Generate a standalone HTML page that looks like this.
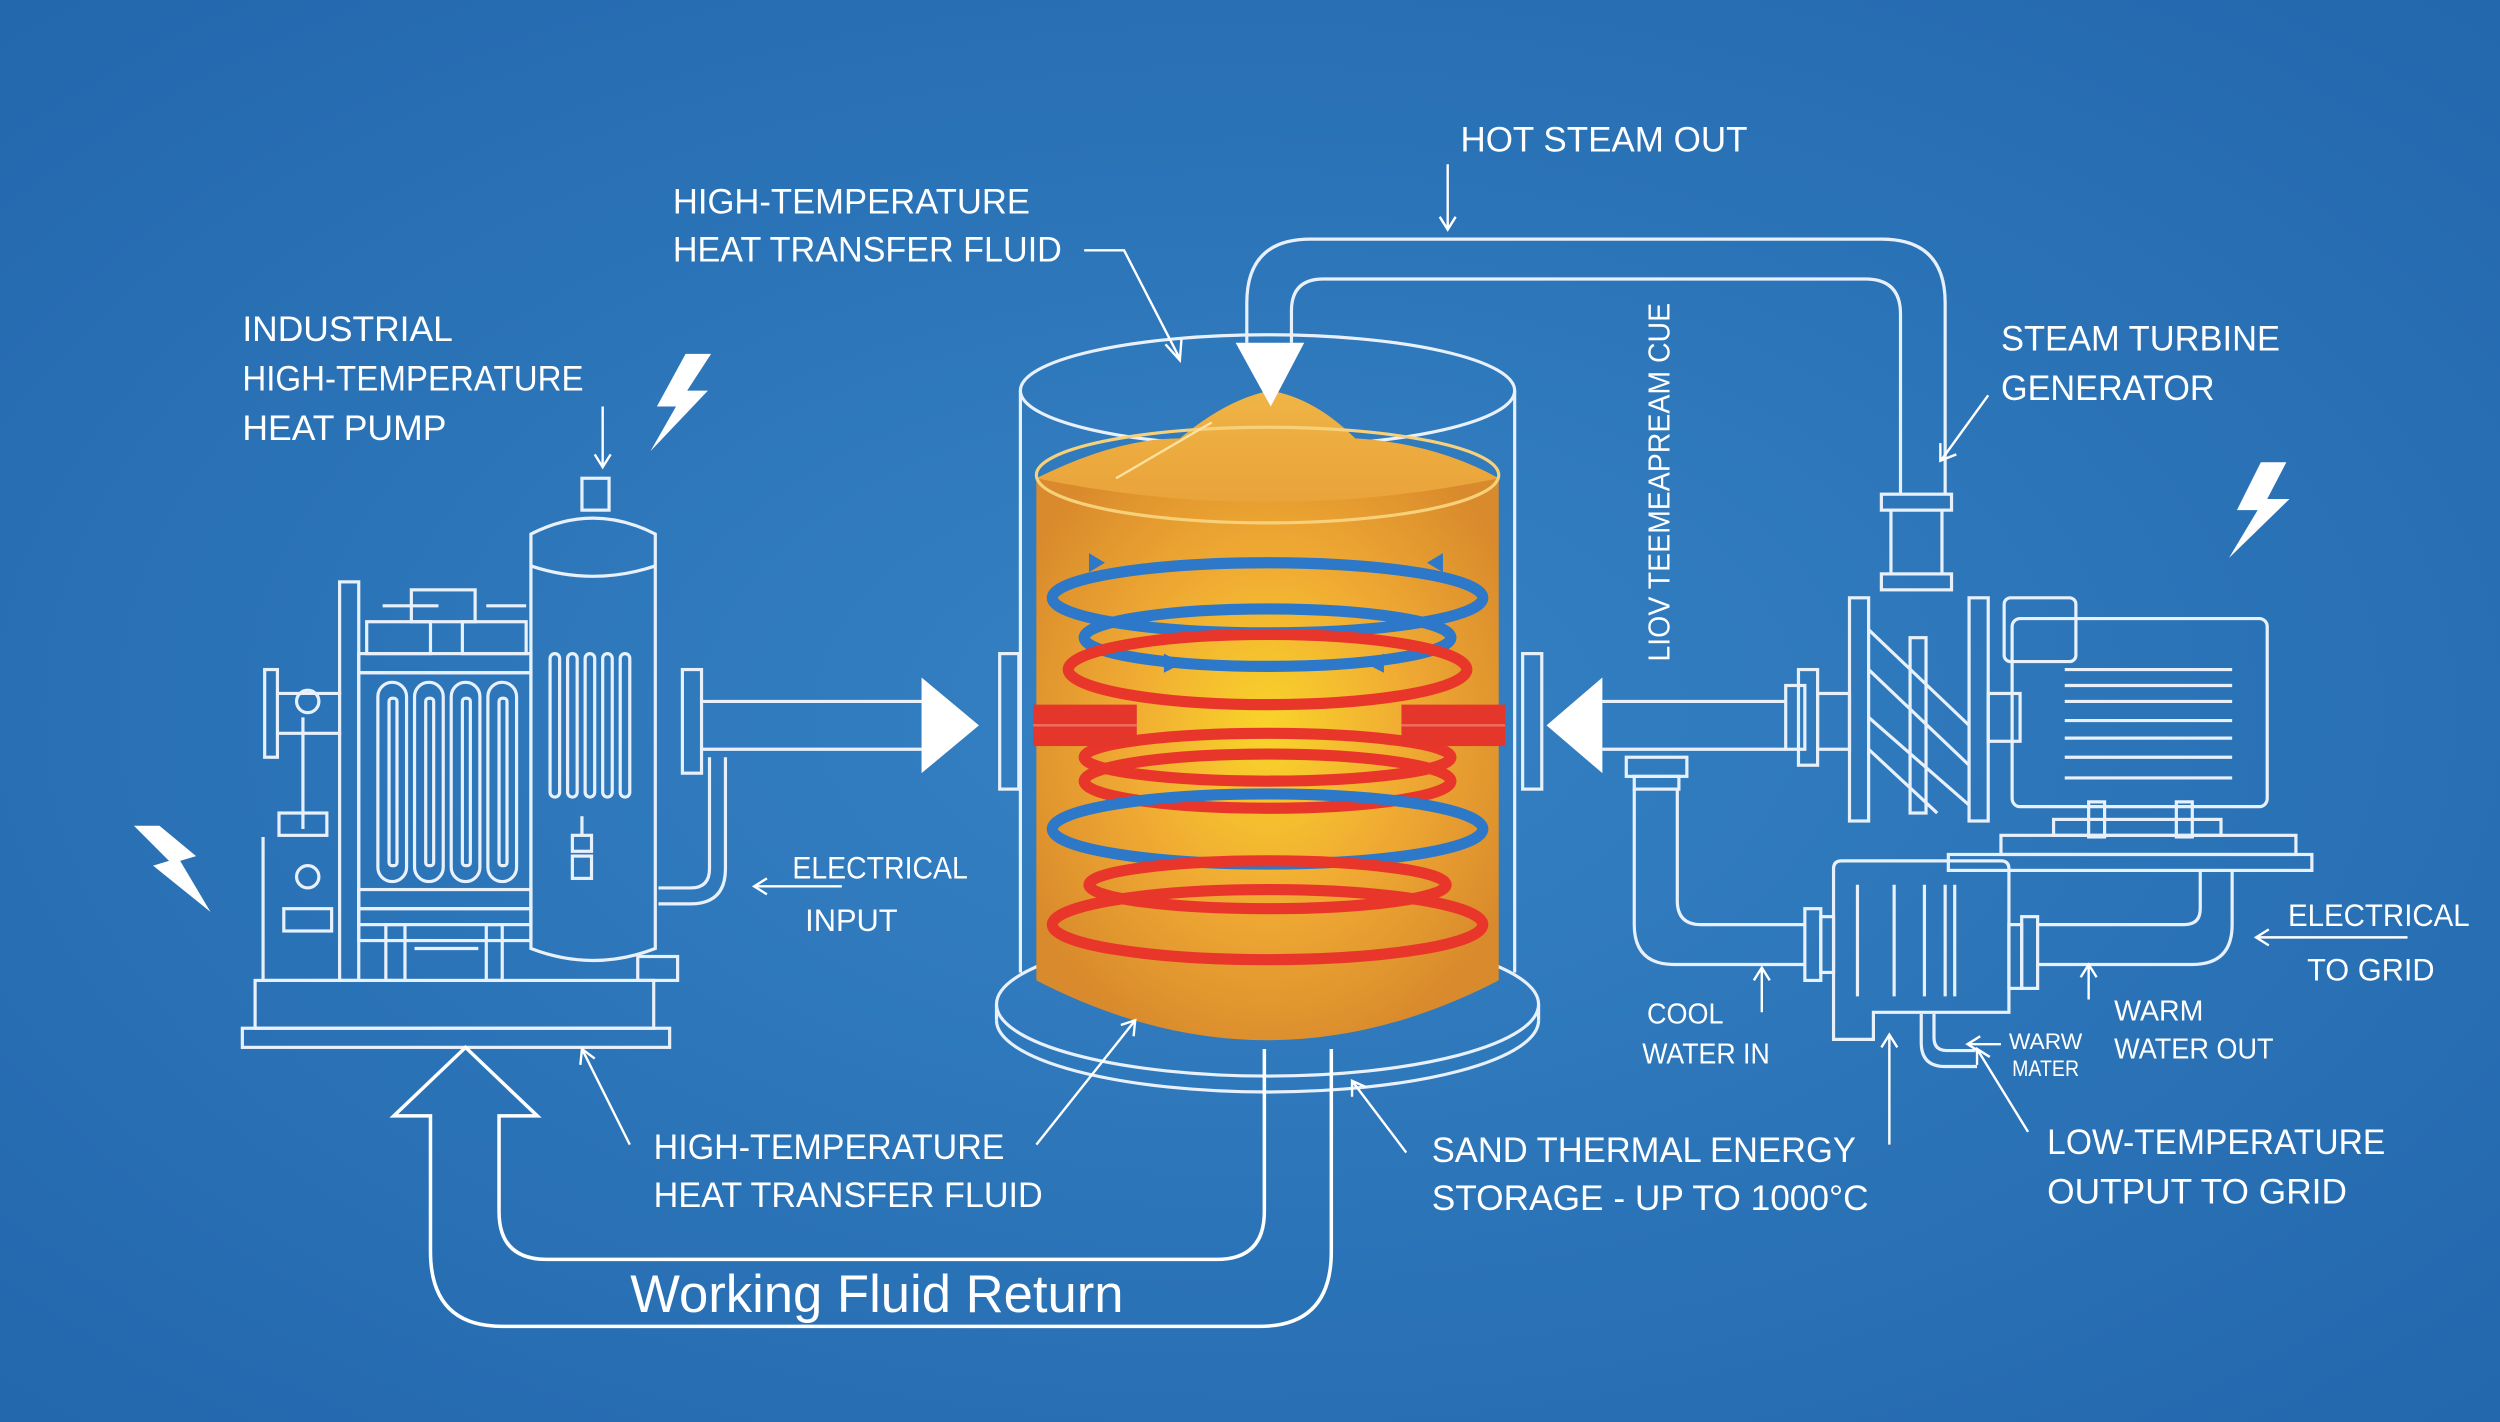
<!DOCTYPE html>
<html><head><meta charset="utf-8"><style>
html,body{margin:0;padding:0;width:2500px;height:1422px;overflow:hidden;background:#2e76b8}
svg{display:block}
text{font-family:"Liberation Sans",sans-serif;fill:#fff}
</style></head><body>
<svg width="2500" height="1422" viewBox="0 0 1568 892" preserveAspectRatio="none" xmlns="http://www.w3.org/2000/svg">
<defs>
<radialGradient id="bg" cx="50%" cy="50%" r="70%">
<stop offset="0" stop-color="#3582c4"/><stop offset="1" stop-color="#2367ad"/></radialGradient>
<radialGradient id="sand" cx="50%" cy="45%" r="60%">
<stop offset="0" stop-color="#f9d52a"/><stop offset="0.5" stop-color="#f0ab33"/><stop offset="1" stop-color="#d98a2c"/></radialGradient>
<linearGradient id="sandtop" x1="0" y1="0" x2="0" y2="1"><stop offset="0" stop-color="#f0b445"/><stop offset="1" stop-color="#e9a33a"/></linearGradient>
</defs>
<rect width="1568" height="892" fill="url(#bg)"/>
<g fill="none" stroke="#e8f1fb" stroke-width="2">
<!-- Left heat pump -->
<rect x="152" y="645" width="268" height="12"/>
<rect x="160" y="615" width="250" height="30"/>
<rect x="213" y="365" width="12" height="250"/>
<rect x="225" y="410" width="108" height="12"/>
<rect x="225" y="422" width="108" height="168"/>
<rect x="225" y="558" width="108" height="12"/>
<rect x="225" y="570" width="108" height="10"/>
<rect x="230" y="390" width="40" height="20"/><rect x="290" y="390" width="40" height="20"/>
<rect x="258" y="370" width="40" height="20"/>
<path d="M240 380h35M305 380h25"/>
<rect x="237" y="428" width="18" height="125" rx="9"/><rect x="244" y="438" width="5" height="105" rx="2"/>
<rect x="260" y="428" width="18" height="125" rx="9"/><rect x="267" y="438" width="5" height="105" rx="2"/>
<rect x="283" y="428" width="18" height="125" rx="9"/><rect x="290" y="438" width="5" height="105" rx="2"/>
<rect x="306" y="428" width="18" height="125" rx="9"/><rect x="313" y="438" width="5" height="105" rx="2"/>
<rect x="242" y="580" width="12" height="35"/><rect x="305" y="580" width="10" height="35"/>
<path d="M260 595h40"/>
<path d="M333 335 Q372 315 411 335 L411 595 Q372 610 333 595 Z"/>
<path d="M333 355 Q372 368 411 355"/>
<rect x="365" y="300" width="17" height="20"/>
<rect x="345" y="410" width="6" height="90" rx="3"/><rect x="356" y="410" width="6" height="90" rx="3"/><rect x="367" y="410" width="6" height="90" rx="3"/><rect x="378" y="410" width="6" height="90" rx="3"/><rect x="389" y="410" width="6" height="90" rx="3"/>
<path d="M365 512v12"/><rect x="359" y="524" width="12" height="10"/><rect x="359" y="537" width="12" height="14"/>
<rect x="400" y="600" width="25" height="15"/>
<!-- left small fittings -->
<rect x="166" y="420" width="8" height="55"/><path d="M174 435h40M174 460h40"/>
<circle cx="193" cy="440" r="7"/><path d="M190 450v70"/>
<rect x="175" y="510" width="30" height="14"/><path d="M165 525v90h50"/>
<rect x="178" y="570" width="30" height="14"/><circle cx="193" cy="550" r="7"/>
<!-- pipe to tank -->
<rect x="428" y="420" width="12" height="65"/>
<path d="M440 440H585M440 470H585"/>
<path d="M445 475 v70 q0 12 -12 12 h-20 M455 475 v70 q0 22 -22 22 h-20"/>
<!-- central tank outer -->
<ellipse cx="795" cy="245" rx="155" ry="35"/>
<path d="M640 245V610M950 245V610"/>
<ellipse cx="795" cy="630" rx="170" ry="45"/>
<path d="M625 630v10 M965 630v10"/>
<path d="M625 640 A170 45 0 0 0 965 640"/>
</g>
<!-- sand -->
<path d="M650 300 L650 615 Q795 690 940 615 L940 300 Z" fill="url(#sand)"/>
<path d="M650 300 Q700 275 740 275 Q770 250 797 245 Q825 250 850 275 Q900 278 940 300 Q795 330 650 300Z" fill="url(#sandtop)"/>
<ellipse cx="795" cy="298" rx="145" ry="30" fill="none" stroke="#f7d07a" stroke-width="2"/>
<path d="M700 300 L760 265" stroke="#fbe1a0" stroke-width="1.5"/>
<g fill="none" stroke-width="7">
<ellipse cx="795" cy="375" rx="135" ry="22" stroke="#2d78c8"/>
<ellipse cx="795" cy="400" rx="115" ry="18" stroke="#2d78c8"/>
<ellipse cx="795" cy="420" rx="125" ry="22" stroke="#e8372a"/>
<ellipse cx="795" cy="475" rx="115" ry="15" stroke="#e8372a"/>
<ellipse cx="795" cy="490" rx="115" ry="17" stroke="#e8372a"/>
<ellipse cx="795" cy="520" rx="135" ry="22" stroke="#2d78c8"/>
<ellipse cx="795" cy="555" rx="112" ry="15" stroke="#e8372a"/>
<ellipse cx="795" cy="580" rx="135" ry="22" stroke="#e8372a"/>
</g>
<path d="M730 410l12 6-12 6zM868 410l-12 6 12 6zM683 347l10 6-10 6zM905 347l-10 6 10 6z" fill="#2d78c8"/>
<rect x="648" y="442" width="65" height="26" fill="#e4362b"/>
<rect x="879" y="442" width="65" height="26" fill="#e4362b"/>
<path d="M648 455h65M879 455h65" stroke="#f07060" stroke-width="1.5"/>
<g fill="none" stroke="#e8f1fb" stroke-width="2">
<rect x="627" y="410" width="12" height="85"/>
<rect x="955" y="410" width="12" height="85"/>
<path d="M1005 440H1120M1005 470H1120"/>
<!-- steam pipe -->
<path d="M782 215V190 Q782 150 822 150 H1180 Q1220 150 1220 190 V310"/>
<path d="M810 215V195 Q810 175 830 175 H1170 Q1192 175 1192 197 V310"/>
<rect x="1180" y="310" width="44" height="10"/>
<path d="M1186 320v40M1218 320v40"/>
<rect x="1180" y="360" width="44" height="10"/>
<!-- turbine -->
<rect x="1120" y="430" width="12" height="40"/><rect x="1128" y="420" width="12" height="60"/>
<rect x="1140" y="435" width="20" height="35"/>
<rect x="1160" y="375" width="12" height="140"/><rect x="1235" y="375" width="12" height="140"/>
<path d="M1172 395 L1235 455M1172 420 L1235 480M1172 450 L1235 505M1172 470 L1215 510"/>
<rect x="1198" y="400" width="10" height="110"/>
<rect x="1247" y="435" width="20" height="30"/>
<rect x="1257" y="375" width="45" height="40" rx="4"/>
<rect x="1262" y="388" width="160" height="118" rx="5"/>
<path d="M1295 420h105M1295 430h105M1295 440h105M1295 452h105M1295 463h105M1295 475h105M1295 488h105"/>
<rect x="1310" y="503" width="10" height="22"/><rect x="1365" y="503" width="10" height="22"/>
<rect x="1288" y="514" width="105" height="10"/>
<rect x="1255" y="524" width="185" height="12"/>
<rect x="1222" y="536" width="228" height="10"/>
<!-- condenser loop -->
<rect x="1020" y="475" width="38" height="12"/><rect x="1025" y="487" width="28" height="8"/>
<path d="M1025 495V580 Q1025 605 1050 605 H1132 M1052 495V565 Q1052 580 1067 580 H1132"/>
<rect x="1132" y="570" width="10" height="45"/><rect x="1142" y="575" width="8" height="35"/>
<path d="M1150 545 Q1150 540 1155 540 H1255 Q1260 540 1260 545 V635 H1175 V652 H1150 Z"/>
<path d="M1165 555v70M1188 555v70M1207 555v70M1220 555v70M1226 555v70"/>
<rect x="1260" y="580" width="8" height="40"/><rect x="1268" y="575" width="10" height="45"/>
<path d="M1278 580H1370 Q1380 580 1380 570V546 M1278 605H1375 Q1400 605 1400 580V546"/>
<path d="M1205 636v18 q0 15 15 15 h20 M1213 636v15 q0 8 8 8 h18"/>
</g>
<!-- white triangles -->
<g fill="#fff">
<path d="M578 425L614 455L578 485Z"/>
<path d="M1005 425L970 455L1005 485Z"/>
<path d="M775 215H818L797 255Z"/>
</g>
<!-- return arrow -->
<path d="M835 658 V785 Q835 832 790 832 H315 Q270 832 270 785 V700 H247 L292 657 L337 700 H313 V760 Q313 790 343 790 H763 Q793 790 793 760 V658" fill="none" stroke="#fff" stroke-width="2.2"/>
<text x="550" y="823" font-size="33" text-anchor="middle">Working Fluid Return</text>
<!-- lightning -->
<g fill="#fff">
<path d="M430 222 L412 255 L424 255 L408 283 L444 245 L431 245 L446 222Z"/>
<path d="M1418 290 L1403 320 L1416 320 L1398 350 L1436 313 L1422 313 L1434 290Z"/>
<path d="M84 518 L106 540 L96 543 L132 572 L113 540 L123 537 L100 518Z"/>
</g>
<!-- label leader lines -->
<g fill="none" stroke="#fff" stroke-width="1.5">
<path d="M908 103V143M903 136l5 8 5-8"/>
<path d="M680 157H705L740 225M731 216l9 10 1-13"/>
<path d="M378 255V292M373 285l5 8 5-8"/>
<path d="M1247 248L1218 288M1217 278l0 11 10-4"/>
<path d="M528 556H473M481 551l-8 5 8 5"/>
<path d="M395 718L365 658M364 668l1-10 8 6"/>
<path d="M650 718L712 640M703 643l9-3-1 10"/>
<path d="M882 723L848 678M848 688l0-10 9 4"/>
<path d="M1185 718V650M1180 657l5-8 5 8"/>
<path d="M1105 635V608M1100 615l5-8 5 8"/>
<path d="M1310 605V627M1305 613l5-8 5 8"/>
<path d="M1272 710L1240 658M1240 668l0-10 8 5"/>
<path d="M1255 655H1235M1242 650l-8 5 8 5"/>
<path d="M1510 588H1415M1423 583l-8 5 8 5"/>
</g>
<g font-size="22">
<text x="916" y="95" textLength="180" lengthAdjust="spacingAndGlyphs">HOT STEAM OUT</text>
<text x="422" y="134" textLength="224" lengthAdjust="spacingAndGlyphs">HIGH-TEMPERATURE</text>
<text x="422" y="164" textLength="244" lengthAdjust="spacingAndGlyphs">HEAT TRANSFER FLUID</text>
<text x="152" y="214" textLength="132" lengthAdjust="spacingAndGlyphs">INDUSTRIAL</text>
<text x="152" y="245" textLength="214" lengthAdjust="spacingAndGlyphs">HIGH-TEMPERATURE</text>
<text x="152" y="276" textLength="128" lengthAdjust="spacingAndGlyphs">HEAT PUMP</text>
<text x="1255" y="220" textLength="175" lengthAdjust="spacingAndGlyphs">STEAM TURBINE</text>
<text x="1255" y="251" textLength="134" lengthAdjust="spacingAndGlyphs">GENERATOR</text>
<text x="497" y="551" font-size="20" textLength="110" lengthAdjust="spacingAndGlyphs">ELECTRICAL</text>
<text x="505" y="584" font-size="20" textLength="58" lengthAdjust="spacingAndGlyphs">INPUT</text>
<text x="410" y="727" textLength="220" lengthAdjust="spacingAndGlyphs">HIGH-TEMPERATURE</text>
<text x="410" y="757" textLength="244" lengthAdjust="spacingAndGlyphs">HEAT TRANSFER FLUID</text>
<text x="898" y="729" textLength="266" lengthAdjust="spacingAndGlyphs">SAND THERMAL ENERGY</text>
<text x="898" y="759" textLength="274" lengthAdjust="spacingAndGlyphs">STORAGE - UP TO 1000°C</text>
<text x="1284" y="724" textLength="212" lengthAdjust="spacingAndGlyphs">LOW-TEMPERATURE</text>
<text x="1284" y="755" textLength="188" lengthAdjust="spacingAndGlyphs">OUTPUT TO GRID</text>
<text x="1435" y="581" font-size="20" textLength="114" lengthAdjust="spacingAndGlyphs">ELECTRICAL</text>
<text x="1447" y="615" font-size="20" textLength="80" lengthAdjust="spacingAndGlyphs">TO GRID</text>
<text x="1033" y="642" font-size="18" textLength="48" lengthAdjust="spacingAndGlyphs">COOL</text>
<text x="1030" y="667" font-size="18" textLength="80" lengthAdjust="spacingAndGlyphs">WATER IN</text>
<text x="1326" y="640" font-size="18" textLength="56" lengthAdjust="spacingAndGlyphs">WARM</text>
<text x="1326" y="664" font-size="18" textLength="100" lengthAdjust="spacingAndGlyphs">WATER OUT</text>
<text x="1260" y="658" font-size="14" textLength="46" lengthAdjust="spacingAndGlyphs">WARW</text>
<text x="1262" y="675" font-size="14" textLength="42" lengthAdjust="spacingAndGlyphs">MATER</text>
<text transform="translate(1047 415) rotate(-90)" font-size="19" textLength="225" lengthAdjust="spacingAndGlyphs">LIOV TEEMEAPREAM CUE</text>
</g>
</svg>
</body></html>
